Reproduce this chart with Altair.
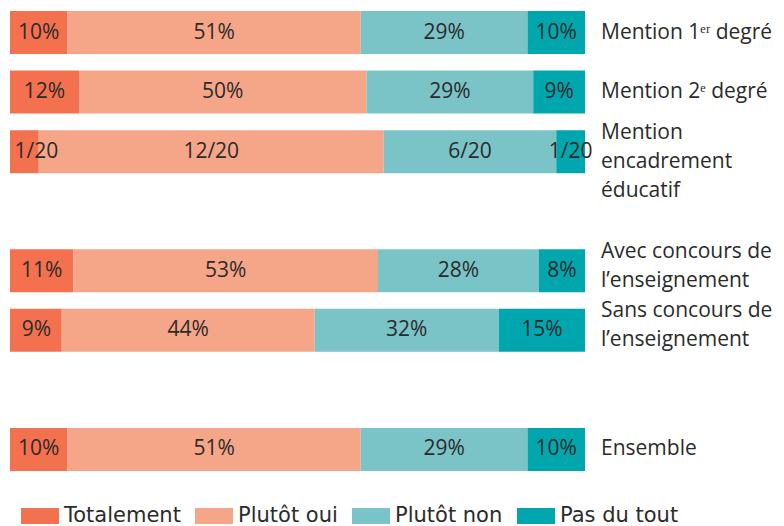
import altair as alt
import pandas as pd

categories = [
    "Mention 1ᵉʳ degré",
    "Mention 2ᵉ degré",
    "Mention\nencadrement\néducatif",
    "Avec concours de\nl’enseignement",
    "Sans concours de\nl’enseignement",
    "Ensemble",
]
responses = ["Totalement", "Plutôt oui", "Plutôt non", "Pas du tout"]
colors = ["#f4714f", "#f6a688", "#7ac3c7", "#00a6ae"]

totalement = [10, 12, 5, 11, 9, 10]
plutot_oui = [51, 50, 60, 53, 44, 51]
plutot_non = [29, 29, 30, 28, 32, 29]
pas_du_tout = [10, 9, 5, 8, 15, 10]

labels_totalement = ["10%", "12%", "1/20", "11%", "9%", "10%"]
labels_plutot_oui = ["51%", "50%", "12/20", "53%", "44%", "51%"]
labels_plutot_non = ["29%", "29%", "6/20", "28%", "32%", "29%"]
labels_pas_du_tout = ["10%", "9%", "1/20", "8%", "15%", "10%"]

# row order on the band scale, with two empty spacer rows
row_order = [categories[0], categories[1], categories[2], "·1",
             categories[3], categories[4], "·2", categories[5]]

series = [totalement, plutot_oui, plutot_non, pas_du_tout]
series_labels = [labels_totalement, labels_plutot_oui, labels_plutot_non, labels_pas_du_tout]

rows = []
for k, (resp, vals, labs) in enumerate(zip(responses, series, series_labels)):
    for cat, v, lab in zip(categories, vals, labs):
        rows.append({"cat": cat, "resp": resp, "value": v, "label": lab, "order": k})
df = pd.DataFrame(rows)
cat_df = pd.DataFrame({"cat": categories})

FONT = "Open Sans"
TEXT_COLOR = "#2b2b2b"
FS = 21

y_enc = alt.Y("cat:N", scale=alt.Scale(domain=row_order, paddingInner=0.278, paddingOuter=0), axis=None)
x_scale = alt.Scale(domain=[0, 100], nice=False, zero=True)

base = alt.Chart(df).transform_stack(
    stack="value", as_=["x0", "x1"], groupby=["cat"], sort=[alt.SortField("order")]
).transform_calculate(mid="max((datum.x0 + datum.x1) / 2, 4.6)")

bars = base.mark_bar().encode(
    x=alt.X("x0:Q", scale=x_scale, axis=None),
    x2="x1:Q",
    y=y_enc,
    color=alt.Color(
        "resp:N",
        scale=alt.Scale(domain=responses, range=colors),
        legend=alt.Legend(
            title=None,
            orient="none",
            legendX=11,
            legendY=486,
            direction="horizontal",
            symbolType="M-1,-0.42H1V0.42H-1Z",
            symbolSize=1444,
            symbolStrokeWidth=0,
            symbolOpacity=1,
            labelFontSize=21,
            labelFont="DejaVu Sans",
            labelColor=TEXT_COLOR,
            labelOffset=5,
            columnPadding=14,
        ),
    ),
)

values_text = base.mark_text(fontSize=FS, font=FONT, color=TEXT_COLOR, baseline="middle").encode(
    x=alt.X("mid:Q", scale=x_scale),
    y=y_enc,
    text="label:N",
)

cat_base = alt.Chart(cat_df).transform_calculate(
    multi="indexof(datum.cat, '\\n') >= 0", xpos="100"
)

single_labels = cat_base.transform_filter("!datum.multi").mark_text(
    fontSize=FS, font=FONT, color=TEXT_COLOR, align="left", baseline="middle", dx=16
).encode(x=alt.X("xpos:Q", scale=x_scale), y=y_enc, text="cat:N")

multi_labels = cat_base.transform_filter("datum.multi").mark_text(
    fontSize=FS, font=FONT, color=TEXT_COLOR, align="left", baseline="top", dx=16, dy=-30,
    lineBreak="\n", lineHeight=29
).encode(x=alt.X("xpos:Q", scale=x_scale), y=y_enc, text="cat:N")

chart = alt.layer(bars, values_text, single_labels, multi_labels).properties(
    width=575,
    height=460,
    autosize=alt.AutoSizeParams(type="none"),
    padding={"left": 2, "top": 3, "right": 189, "bottom": 58},
).configure_view(stroke=None)

chart.save("out.html", embed_options={"renderer": "svg", "actions": False})
